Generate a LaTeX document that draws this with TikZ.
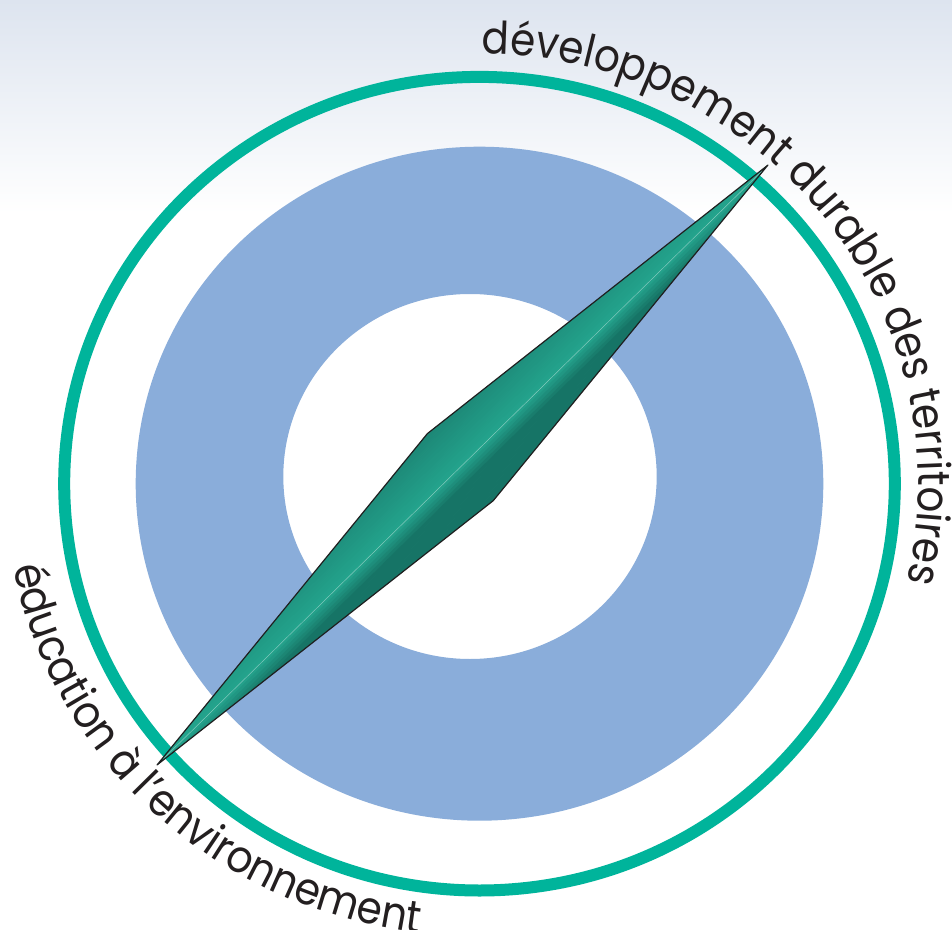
\documentclass[tikz,border=0pt]{standalone}
\usepackage{fontspec}
\setmainfont{Poppins}[FakeStretch=0.9]
\usetikzlibrary{decorations.text}
\definecolor{bgtop}{RGB}{221,228,239}
\definecolor{ringgreen}{RGB}{0,180,155}
\definecolor{ringblue}{RGB}{138,173,218}
\definecolor{needlelight}{RGB}{35,163,140}
\definecolor{needleedge}{RGB}{29,136,119}
\definecolor{needleridge}{RGB}{36,160,138}
\definecolor{needledark}{RGB}{22,116,102}
\definecolor{textc}{RGB}{35,31,32}
\newcommand\arcfont{\fontsize{45}{50}\selectfont}
\begin{document}
\begin{tikzpicture}[x=1pt,y=1pt,
  arctext/.style={decorate, decoration={text along path, text align=left, text color=textc, text={#1}}},
  greenring/.style={draw=ringgreen, line width=12pt},
  needleline/.style={draw=black!88, line width=1.2pt, line join=round}]
\useasboundingbox (-479.5,-445.3) rectangle (472.5,483.7);
% background
\fill[white] (-479.5,-445.3) rectangle (472.5,483.7);
\shade[top color=bgtop, bottom color=white] (-479.5,270) rectangle (472.5,483.7);
% green circle
\draw[greenring] (0,0) ellipse [x radius=415.3pt, y radius=406.8pt];
% blue ring
\fill[ringblue, even odd rule] (0,0) ellipse [x radius=343.8pt, y radius=337pt]
  (-9.5,7.2) ellipse [x radius=186.7pt, y radius=182.5pt];
% needle
\begin{scope}[shift={(-17,18.7)}, rotate=44.48]
  \begin{scope}
    \clip (-428,0) -- (-3,47) -- (428,0) -- cycle;
    \foreach \i in {0,...,15} {
      \pgfmathsetmacro\p{100*\i/15}
      \fill[needleedge!\p!needlelight] (-430,{47*\i/16}) rectangle (430,{47*(\i+1)/16+0.6});
    }
  \end{scope}
  \begin{scope}
    \clip (-428,0) -- (428,0) -- (-3,-47) -- cycle;
    \foreach \i in {0,...,15} {
      \pgfmathsetmacro\p{min(100,100*\i/5)}
      \fill[needledark!\p!needleridge] (-430,{-47*\i/16}) rectangle (430,{-47*(\i+1)/16-0.6});
    }
  \end{scope}
  \draw[white!40!needlelight, line width=0.5pt] (-428,0) -- (428,0);
  \draw[needleline] (-428,0) -- (-3,47) -- (428,0) -- (-3,-47) -- cycle;
\end{scope}
% texts along the circle
\path[arctext={|\arcfont|développement durable des territoires}]
  (89.7:439pt and 430pt) arc[start angle=89.7, end angle=-40, x radius=439pt, y radius=430pt];
\path[arctext={|\arcfont|éducation à l'environnement}]
  (190.6:474pt and 453pt) arc[start angle=190.6, end angle=290, x radius=474pt, y radius=453pt];
\end{tikzpicture}
\end{document}
